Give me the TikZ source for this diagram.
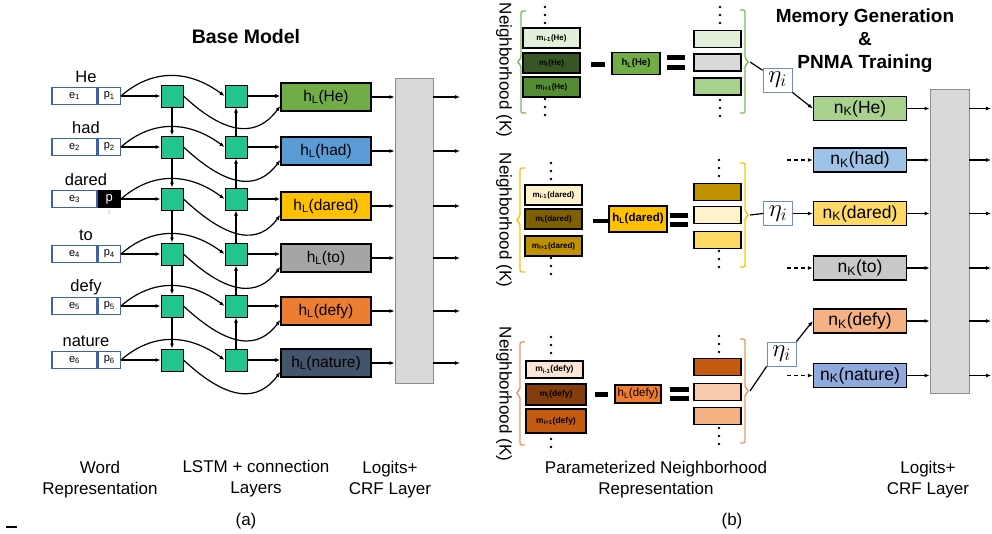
\RequirePackage{fix-cm}
\documentclass[tikz,border=0pt]{standalone}
\usepackage{fontspec}
\setmainfont{Liberation Sans}
\usetikzlibrary{arrows.meta,positioning,calc}

\definecolor{lstmgreen}{RGB}{35,196,142}
\definecolor{wordblue}{RGB}{58,98,173}
\definecolor{etablue}{RGB}{110,140,200}
\definecolor{crfgray}{HTML}{D9D9D9}
\definecolor{crfline}{HTML}{8C8C8C}
\definecolor{hHe}{HTML}{70AD47}
\definecolor{hhad}{HTML}{5B9BD5}
\definecolor{hdared}{HTML}{FFC000}
\definecolor{hto}{HTML}{A5A5A5}
\definecolor{hdefy}{HTML}{ED7D31}
\definecolor{hnature}{HTML}{44546A}
\definecolor{mHea}{HTML}{E2EFDA}
\definecolor{mHeb}{HTML}{375623}
\definecolor{mHec}{RGB}{84,140,52}
\definecolor{rHea}{HTML}{E2EFDA}
\definecolor{rHeb}{HTML}{D9D9D9}
\definecolor{rHec}{HTML}{A9D18E}
\definecolor{mdareda}{HTML}{FFF2CC}
\definecolor{mdaredb}{HTML}{7F6000}
\definecolor{mdaredc}{HTML}{BF9000}
\definecolor{rdareda}{HTML}{BF9000}
\definecolor{rdaredb}{HTML}{FFF2CC}
\definecolor{rdaredc}{HTML}{FFD966}
\definecolor{mdefya}{HTML}{FBE5D6}
\definecolor{mdefyb}{HTML}{843C0C}
\definecolor{mdefyc}{HTML}{C55A11}
\definecolor{rdefya}{HTML}{C55A11}
\definecolor{rdefyb}{HTML}{F8CBAD}
\definecolor{rdefyc}{HTML}{F4B183}
\definecolor{nkHe}{HTML}{A9D18E}
\definecolor{nkhad}{HTML}{9DC3E6}
\definecolor{nkdared}{HTML}{FFD966}
\definecolor{nkto}{HTML}{C9C9C9}
\definecolor{nkdefy}{HTML}{F4B183}
\definecolor{nknature}{HTML}{8FAADC}
\definecolor{brHe}{RGB}{125,184,90}
\definecolor{brdared}{HTML}{FFC000}
\definecolor{brdefy}{RGB}{240,150,90}

\tikzset{
  wordbox/.style={draw=wordblue, line width=1.3pt, minimum height=17pt, inner sep=0pt, font=\fontsize{11}{12}\selectfont},
  lstm/.style={draw, fill=lstmgreen, line width=1pt, minimum size=22pt, inner sep=0pt},
  hbox/.style={draw, line width=1.6pt, minimum width=90pt, minimum height=28pt, inner sep=0pt, font=\fontsize{15.5}{16}\selectfont},
  crf/.style={draw=crfline, fill=crfgray, line width=0.8pt, inner sep=0pt},
  mbox/.style={draw, line width=1.4pt, inner sep=0pt, font=\fontsize{8}{9}\selectfont\bfseries},
  rbox/.style={draw, line width=1.4pt, minimum width=47pt, minimum height=17pt, inner sep=0pt},
  nbox/.style={draw, line width=1.4pt, minimum width=93pt, minimum height=24pt, inner sep=0pt, font=\fontsize{17.5}{18}\selectfont},
  etabox/.style={draw=etablue, line width=0.8pt, fill=white, minimum width=29pt, minimum height=24pt, inner sep=0pt, font=\fontsize{25}{25}\selectfont},
  conn/.style={line width=1.2pt, -{Latex[length=5pt,width=4pt]}},
  label/.style={font=\fontsize{17}{21}\selectfont, align=center},
}

% three dots in a column
\newcommand{\dotcol}[2]{\foreach \dd in {0,8,16}{\fill (#1,#2+\dd) circle (1.4pt);}}
% brackets round a neighbourhood: x, top, bottom, middle, colour
\newcommand{\leftbrak}[5]{\draw[#5, line width=1.4pt, rounded corners=2pt] (#1+5,#2) -- (#1,#2) -- (#1,#4-3) -- (#1-4,#4) -- (#1,#4+3) -- (#1,#3) -- (#1+5,#3);}
\newcommand{\rightbrak}[5]{\draw[#5, line width=1.4pt, rounded corners=2pt] (#1-5,#2) -- (#1,#2) -- (#1,#4-3) -- (#1+4,#4) -- (#1,#4+3) -- (#1,#3) -- (#1-5,#3);}

\begin{document}
\begin{tikzpicture}[x=1pt,y=-1pt]
\useasboundingbox (0,0) rectangle (992,533);

%% (a) base model
\node[font=\fontsize{19.5}{20}\selectfont\bfseries, anchor=base] (titlea) at (246,43) {Base Model};

\foreach \i/\w/\y/\hy/\col in {1/He/96/97/hHe, 2/had/147/151/hhad, 3/dared/199/206/hdared,
                               4/to/254/258/hto, 5/defy/306/311/hdefy, 6/nature/360/363/hnature} {
  \node[wordbox, minimum width=45pt] (e\i) at (74.5,\y) {e\textsubscript{\i}};
  \node[font=\fontsize{16.5}{17}\selectfont] (w\i) at (86,\y-19) {\w};
  \node[lstm] (a\i) at (172,\y) {};
  \node[lstm] (b\i) at (236,\y) {};
  \node[hbox, fill=\col] (h\i) at (326,\hy) {h\textsubscript{L}(\w)};
  \coordinate (oa\i) at (460,\hy);
}
\foreach \i in {1,2,4,5,6}
  \node[wordbox, minimum width=22pt, right=0pt of e\i] (p\i) {p\textsubscript{\i}};
\node[wordbox, draw=black, fill=black, text=white, minimum width=22pt, right=0pt of e3, font=\fontsize{13}{13}\selectfont] (p3) {p};
\node[below=1pt of p3, inner sep=0.5pt, text=gray!50, font=\fontsize{6}{6}\selectfont] (p3s) {3};

\node[crf, minimum width=38pt, minimum height=305pt] (crfa) at (414,230.5) {};

\foreach \i in {1,...,6} {
  \draw[conn] (p\i.east) -- (a\i.west);
  \draw[conn] (p\i.east) .. controls +(32,-28) and +(-35,-26) .. (b\i.west);
  \draw[conn] (a\i.east) .. controls +(45,42) and +(-22,30) .. ([yshift=-9pt]h\i.west);
  \draw[conn] (b\i.east) -- (b\i.east -| h\i.west);
  \draw[conn] (h\i.east) -- (h\i.east -| crfa.west);
  \draw[conn] (h\i.east -| crfa.east) -- (oa\i);
}
\foreach \i in {1,...,5} {
  \pgfmathtruncatemacro{\j}{\i+1}
  \draw[conn] (a\i) -- (a\j);
  \draw[conn] (b\j) -- (b\i);
}

\node[label] (lwa) at (100,480) {Word\\Representation};
\node[label] (lla) at (256,479) {LSTM + connection\\Layers};
\node[label] (lca) at (390,480) {Logits+\\CRF Layer};
\node[label] (capa) at (246,521) {(a)};
\draw[line width=1.5pt] (6,527) -- (17,527);

%% (b) memory generation
\node[font=\fontsize{19}{23}\selectfont\bfseries, align=center] (titleb) at (865,41) {Memory Generation\\\&\\PNMA Training};

\node[rotate=-90, font=\fontsize{17}{17}\selectfont] (nb1) at (504,70) {Neighborhood (K)};
\node[rotate=-90, font=\fontsize{17}{17}\selectfont] (nb2) at (504,220) {Neighborhood (K)};
\node[rotate=-90, font=\fontsize{17}{17}\selectfont] (nb3) at (504,394) {Neighborhood (K)};

% He
\leftbrak{521}{11}{113}{62}{brHe}
\rightbrak{745}{10}{113}{62}{brHe}
\coordinate (tip1) at (750,62);
\dotcol{545}{7} \dotcol{545}{99}
\dotcol{720}{7} \dotcol{720}{100}
\foreach \q/\s/\y in {a/i-1/38, b/i/63, c/i+1/87}
  \node[mbox, fill=mHe\q, minimum width=57pt, minimum height=20pt] (mHe\q) at (551.5,\y) {m\textsubscript{\s}(He)};
\fill (591,62) rectangle (605,66.5);
\node[mbox, fill=hHe, minimum width=48pt, minimum height=22pt, font=\fontsize{9.5}{10}\selectfont\bfseries] (hsHe) at (636,63.5) {h\textsubscript{L}(He)};
\fill (667,55) rectangle (685,60);
\fill (667,65) rectangle (685,70);
\foreach \q/\y in {a/39, b/62.5, c/86.5}
  \node[rbox, fill=rHe\q] (rHe\q) at (717.5,\y) {};
\node[etabox] (eta1) at (777.5,80) {$\eta_i$};

% dared
\leftbrak{520}{168}{272}{220}{brdared}
\rightbrak{745}{163}{267}{215}{brdared}
\coordinate (tip2) at (750,215);
\dotcol{551}{163} \dotcol{551}{258}
\dotcol{719}{160} \dotcol{719}{251}
\foreach \q/\s/\y in {a/i-1/195, b/i/219, c/i+1/246}
  \node[mbox, fill=mdared\q, minimum width=57pt, minimum height=20pt] (mdared\q) at (553.5,\y) {m\textsubscript{\s}(dared)};
\fill (593,218.5) rectangle (608,223);
\node[mbox, fill=hdared, minimum width=58pt, minimum height=26pt, font=\fontsize{11.5}{12}\selectfont\bfseries] (hsdared) at (638,219) {h\textsubscript{L}(dared)};
\fill (670,213) rectangle (688,218);
\fill (670,222) rectangle (688,227);
\foreach \q/\y in {a/192, b/215, c/240}
  \node[rbox, fill=rdared\q] (rdared\q) at (717.5,\y) {};
\node[etabox] (eta2) at (778,213.5) {$\eta_i$};

% defy
\leftbrak{520}{342}{445}{393}{brdefy}
\rightbrak{745}{339}{443}{391}{brdefy}
\coordinate (tip3) at (750,391);
\dotcol{551}{337} \dotcol{551}{431}
\dotcol{719}{336} \dotcol{719}{428}
\foreach \q/\s/\y/\bh/\bw in {a/i-1/369.5/17/57, b/i/394.5/21/60, c/i+1/421/24/60}
  \node[mbox, fill=mdefy\q, minimum width=\bw, minimum height=\bh, font=\fontsize{8.5}{9}\selectfont\bfseries] (mdefy\q) at (526+\bw/2,\y) {m\textsubscript{\s}(defy)};
\fill (595,392) rectangle (608,397);
\node[mbox, fill=hdefy, minimum width=46pt, minimum height=18pt, font=\fontsize{11.5}{12}\selectfont] (hsdefy) at (638,394) {h\textsubscript{L}(defy)};
\fill (670,387) rectangle (689,391.5);
\fill (670,396) rectangle (689,400.5);
\foreach \q/\y in {a/367, b/392, c/416}
  \node[rbox, fill=rdefy\q] (rdefy\q) at (717.5,\y) {};
\node[etabox] (eta3) at (781.5,354) {$\eta_i$};

% memory outputs and CRF
\node[crf, minimum width=39pt, minimum height=304pt] (crfb) at (949.5,241) {};
\foreach \i/\w/\y in {1/He/108.5, 2/had/160, 3/dared/213.5, 4/to/268, 5/defy/321, 6/nature/375.5} {
  \node[nbox, fill=nk\w] (nk\i) at (860,\y) {n\textsubscript{K}(\w)};
  \draw[conn] (nk\i.east) -- (nk\i.east -| crfb.west);
  \coordinate (ob\i) at (991,\y);
  \draw[conn] (nk\i.east -| crfb.east) -- (ob\i);
}
\foreach \i in {2,4,6} {
  \coordinate (dn\i) at (787,0 |- nk\i.west);
  \draw[conn, dash pattern=on 4pt off 3pt] (dn\i) -- (nk\i.west);
}
\draw[line width=1.2pt] (tip1) -- (eta1);
\draw[conn] (eta1.south east) -- (nk1.west);
\draw[line width=1.2pt] (tip2) -- (eta2.west);
\draw[conn] (eta2.east) -- (nk3.west);
\draw[line width=1.2pt] (tip3) -- (eta3.south west);
\draw[conn] (eta3.north east) -- (nk5.west);

\node[label] (lpb) at (656,480) {Parameterized Neighborhood\\Representation};
\node[label] (lcb) at (928,480) {Logits+\\CRF Layer};
\node[label] (capb) at (732,521) {(b)};
\end{tikzpicture}
\end{document}
